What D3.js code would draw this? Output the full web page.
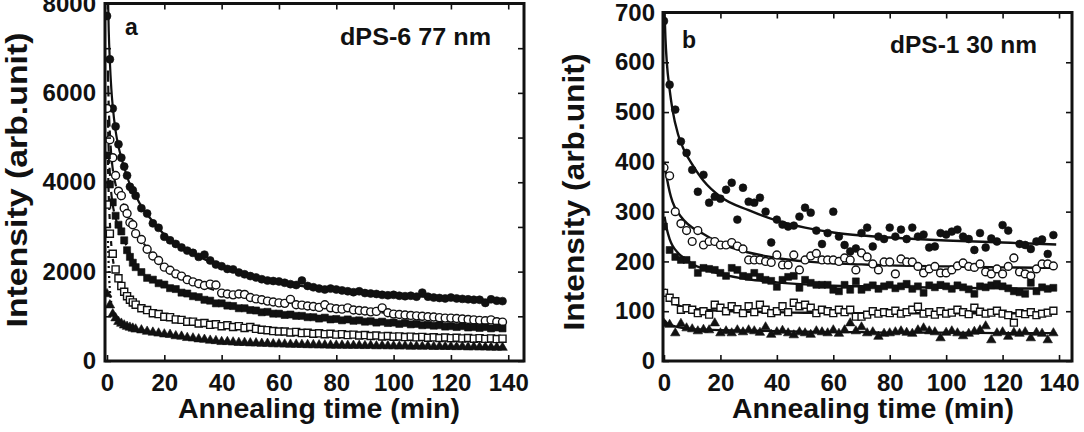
<!DOCTYPE html>
<html><head><meta charset="utf-8">
<script src="https://cdn.jsdelivr.net/npm/d3@7"></script>
<style>body{margin:0;background:#fff}svg{display:block}</style>
</head><body><svg id="c" width="1084" height="432"></svg>
<script>
// ---------- Panel a data (dPS-6 77 nm) ----------
const tA = [0,1,2,3,4,5,6,7,8,9,10,12,14,16,18,20,22,24,26,28,30,32,34,36,38,40,42,44,46,48,50,52,54,56,58,60,62,64,66,68,70,72,74,76,78,80,82,84,86,88,90,92,94,96,98,100,102,104,106,108,110,112,114,116,118,120,122,124,126,128,130,132,134,136,138];
const a1 = [7720,6750,5650,5250,4850,4550,4350,4150,3900,3820,3700,3420,3300,3080,2980,2780,2700,2620,2540,2470,2420,2330,2380,2250,2160,2120,2060,2050,1980,1940,1900,1870,1830,1800,1790,1780,1750,1720,1700,1800,1680,1650,1620,1600,1620,1600,1580,1560,1540,1560,1520,1510,1500,1480,1470,1480,1460,1450,1460,1440,1530,1440,1420,1410,1400,1420,1400,1390,1380,1370,1370,1300,1380,1350,1340];
const a2 = [5650,4950,4550,4150,3800,3700,3420,3300,3100,3050,2850,2720,2500,2350,2250,2100,2030,1950,1900,1820,1770,1730,1690,1720,1700,1520,1500,1480,1500,1490,1420,1390,1370,1340,1320,1300,1290,1380,1260,1250,1230,1220,1200,1260,1190,1170,1160,1190,1140,1130,1120,1100,1110,1190,1080,1050,1040,1030,1020,1010,1000,990,985,970,960,960,950,940,930,920,910,900,920,880,870];
const a3 = [4600,3950,3550,3250,3050,2900,2700,2480,2330,2200,2100,1990,1860,1820,1740,1710,1630,1610,1530,1510,1450,1430,1370,1350,1290,1290,1240,1230,1180,1180,1140,1130,1090,1100,1060,1060,1030,1040,1010,1010,980,980,950,970,930,940,910,930,900,910,880,890,860,880,850,860,830,850,820,830,800,810,790,800,770,780,760,780,750,760,740,760,730,750,730];
const a4 = [3500,2850,2400,2050,1850,1680,1550,1450,1370,1310,1260,1180,1140,1070,1050,990,980,930,920,880,880,840,850,810,820,780,800,760,780,740,760,720,700,690,670,660,660,640,650,625,630,610,620,600,610,590,600,580,590,570,580,560,570,550,560,545,550,535,545,530,540,520,530,515,525,510,520,505,515,500,510,495,505,490,500];
const a5 = [1500,1250,1050,960,880,840,800,770,750,730,710,690,660,640,620,600,590,560,550,520,510,490,480,460,450,430,430,420,410,410,400,400,390,390,380,380,375,370,370,365,360,360,355,355,350,350,350,345,345,345,340,345,335,340,335,335,330,335,325,330,325,330,320,325,320,320,315,320,310,315,310,310,305,305,300];
const tFitA = [0.3,0.6,1,1.5,2,3,4,5,6,8,10,12,15,20,25,30,40,50,60,70,80,90,100,110,120,130,138];
const fa1 = [8300,7400,6700,6100,5700,5150,4800,4550,4330,3950,3700,3460,3200,2830,2570,2400,2110,1900,1760,1660,1600,1530,1480,1440,1410,1380,1350];
const fa2 = [6500,5700,5100,4600,4300,3950,3750,3600,3450,3150,2900,2700,2450,2130,1920,1770,1540,1420,1320,1240,1180,1120,1060,1010,970,930,890];
const fa3 = [5400,4700,4200,3750,3500,3200,3000,2850,2700,2400,2150,1990,1830,1700,1580,1460,1280,1150,1060,990,935,885,850,810,775,750,735];
const fa4 = [4500,3700,3100,2600,2300,2000,1830,1690,1560,1390,1270,1190,1100,990,920,870,790,740,660,625,600,575,550,530,515,500,490];
const fa5 = [2800,2100,1600,1300,1100,950,870,830,800,750,710,690,655,600,550,510,435,400,380,360,350,342,335,328,320,310,302];
const yTicksA = [0,1000,2000,3000,4000,5000,6000,7000,8000];
const yLabelsA = [0,2000,4000,6000,8000];

// ---------- Panel b data (dPS-1 30 nm) ----------
const tB = [0,2,4,6,8,10,12,14,16,18,20,22,24,26,28,30,32,34,36,38,40,42,44,46,48,50,52,54,56,58,60,62,64,66,68,70,72,74,76,78,80,82,84,86,88,90,92,94,96,98,100,102,104,106,108,110,112,114,116,118,120,122,124,126,128,130,132,134,136,138];
const b1 = [683,555,505,441,418,384,340,374,318,330,326,344,358,284,348,320,318,328,300,238,284,274,270,272,290,308,298,262,235,257,300,250,233,220,226,257,268,230,250,245,268,250,264,245,268,250,254,228,230,257,254,260,264,250,245,223,257,228,246,240,273,262,207,235,233,225,240,244,215,253];
const b2 = [388,372,300,276,262,240,262,233,240,240,233,233,238,231,225,203,203,203,200,198,213,193,193,213,183,203,211,216,203,203,203,200,207,203,183,217,209,195,183,199,199,175,205,199,199,190,177,185,190,177,177,183,191,197,190,188,195,179,175,185,175,190,207,179,175,171,185,195,195,191];
const b3 = [270,223,209,203,203,193,177,187,185,183,177,171,187,183,171,169,177,169,163,161,149,163,169,171,147,163,157,153,153,153,143,140,153,143,160,143,148,152,145,150,153,146,150,155,145,150,137,152,148,153,150,145,152,148,144,135,150,148,152,155,150,146,140,138,135,157,140,148,145,147];
const b4 = [137,127,120,103,106,103,96,100,93,113,107,100,110,104,96,110,98,113,103,96,100,110,98,117,110,113,107,96,103,100,96,103,98,103,89,89,93,100,95,98,96,101,95,98,103,109,95,98,93,100,95,97,103,98,94,107,99,95,97,101,95,92,77,96,94,98,92,95,97,101];
const b5 = [75,73,56,75,66,64,60,63,62,76,56,60,56,62,58,62,60,57,68,53,58,61,56,52,58,56,53,60,58,56,62,55,62,76,60,68,56,58,49,55,56,58,60,57,55,62,66,60,58,46,57,60,56,50,55,59,62,70,42,56,58,49,57,55,58,46,57,55,42,56];
const tFitB = [0.2,0.5,1,2,3,5,7,10,14,20,30,40,50,60,70,80,100,120,139];
const fb1 = [700,650,600,545,505,455,425,395,362,330,303,282,268,258,252,248,242,238,234];
const fb2 = [400,385,368,340,320,298,283,268,255,236,218,207,200,196,194,192,190,188,187];
const fb3 = [290,280,265,245,232,217,207,195,185,175,164,158,154,151,150,149,147,146,145];
const fb4 = [145,140,132,124,118,112,108,105,103,101,99,98,97,97,96,96,96,96,96];
const fb5 = [82,80,76,73,71,68,66,64,63,62,61,60,59,58,58,57,57,56,56];
const yTicksB = [0,100,200,300,400,500,600,700];

const xTicks = [0,20,40,60,80,100,120,140];
const markerTypes = ["circleFilled","circleOpen","squareFilled","squareOpen","triangleFilled"];

const FONT = "'Liberation Sans', Arial, Helvetica, sans-serif";
const svg = d3.select("#c");

function symFor(type, s) {
  const shape = type.startsWith("circle") ? d3.symbolCircle : type.startsWith("square") ? d3.symbolSquare : d3.symbolTriangle;
  const size = type.startsWith("triangle") ? s * 0.8 : s;
  return d3.symbol().type(shape).size(size)();
}

function panel(cfg) {
  const x = d3.scaleLinear().domain(cfg.xDomain).range([cfg.left, cfg.right]);
  const y = d3.scaleLinear().domain(cfg.yDomain).range([cfg.bottom, cfg.top]);
  const g = svg.append("g");
  g.append("clipPath").attr("id", cfg.id).append("rect")
    .attr("x", cfg.left).attr("y", cfg.top).attr("width", cfg.right - cfg.left).attr("height", cfg.bottom - cfg.top);
  const plot = g.append("g").attr("clip-path", `url(#${cfg.id})`);
  const line = d3.line().x((d) => x(d[0])).y((d) => y(d[1])).curve(d3.curveMonotoneX);
  cfg.fits.forEach((f, i) => {
    plot.append("path").datum(cfg.tFit.map((t, j) => [t, f[j]]))
      .attr("d", line).attr("fill", "none").attr("stroke", "#111")
      .attr("stroke-width", cfg.lineWidth)
      .attr("stroke-dasharray", cfg.dashes[i]);
  });
  cfg.series.forEach((s, i) => {
    const type = markerTypes[i];
    const open = type.endsWith("Open");
    plot.append("g").selectAll("path").data(cfg.t.map((t, j) => [t, s[j]])).join("path")
      .attr("transform", (d) => `translate(${x(d[0])},${y(d[1])})`)
      .attr("d", symFor(type, cfg.msize))
      .attr("fill", open ? "#fff" : "#111")
      .attr("stroke", "#111").attr("stroke-width", open ? 1.4 : 0.6);
  });
  const tickStyle = (sel) => {
    sel.select(".domain").remove();
    sel.selectAll(".tick line").attr("stroke", "#111").attr("stroke-width", 1.6);
    sel.selectAll(".tick text").attr("fill", "#111").style("font-family", FONT)
      .style("font-weight", "bold").style("font-size", cfg.tickFont + "px");
  };
  g.append("g").attr("transform", `translate(0,${cfg.bottom})`)
    .call(d3.axisBottom(x).tickValues(xTicks).tickSize(-6).tickPadding(13)).call(tickStyle);
  g.append("g").attr("transform", `translate(0,${cfg.top})`)
    .call(d3.axisTop(x).tickValues(xTicks).tickSize(-6).tickFormat("")).call(tickStyle);
  g.append("g").attr("transform", `translate(${cfg.left},0)`)
    .call(d3.axisLeft(y).tickValues(cfg.yTicks).tickSize(-6).tickPadding(cfg.yPad)
      .tickFormat((v) => cfg.yLabels.includes(v) ? String(v) : "")).call(tickStyle);
  g.append("g").attr("transform", `translate(${cfg.right},0)`)
    .call(d3.axisRight(y).tickValues(cfg.yTicks).tickSize(-6).tickFormat("")).call(tickStyle);
  g.append("rect").attr("x", cfg.left).attr("y", cfg.top)
    .attr("width", cfg.right - cfg.left).attr("height", cfg.bottom - cfg.top)
    .attr("fill", "none").attr("stroke", "#111").attr("stroke-width", 3);

  const txt = (xx, yy, s, size, len, anchor) => {
    const t = g.append("text").attr("x", xx).attr("y", yy).text(s)
      .attr("fill", "#111").style("font-family", FONT).style("font-weight", "bold")
      .style("font-size", size + "px").attr("text-anchor", anchor || "start");
    if (len) t.attr("textLength", len).attr("lengthAdjust", "spacingAndGlyphs");
    return t;
  };
  txt(cfg.xTitleX, 418, "Annealing time (min)", 27, 282, "middle");
  g.append("text").attr("transform", `translate(${cfg.yTitleX},${cfg.yTitleY}) rotate(-90)`)
    .attr("text-anchor", "middle").text("Intensity (arb.unit)")
    .attr("fill", "#111").style("font-family", FONT).style("font-weight", "bold")
    .style("font-size", "30px").attr("textLength", cfg.yTitleLen).attr("lengthAdjust", "spacingAndGlyphs");
  txt(cfg.letterX, cfg.letterY, cfg.letter, 23);
  txt(cfg.noteX, cfg.noteY, cfg.note, 23, cfg.noteLen);
}

panel({
  id: "clipA", left: 105, right: 524, top: 3.5, bottom: 361,
  xDomain: [-0.7, 145.5], yDomain: [0, 8000],
  t: tA, series: [a1, a2, a3, a4, a5],
  tFit: tFitA, fits: [fa1, fa2, fa3, fa4, fa5],
  dashes: [null, "11,4", "8,4", "5,4", "2,3"], lineWidth: 2.2,
  msize: 50, yTicks: yTicksA, yLabels: yLabelsA, yPad: 9, tickFont: 24,
  xTitleX: 319, yTitleX: 27, yTitleY: 180, yTitleLen: 295,
  letter: "a", letterX: 125, letterY: 35,
  note: "dPS-6 77 nm", noteX: 340, noteY: 45, noteLen: 151
});

panel({
  id: "clipB", left: 663, right: 1072, top: 12.5, bottom: 361,
  xDomain: [-0.35, 144.6], yDomain: [0, 700],
  t: tB, series: [b1, b2, b3, b4, b5],
  tFit: tFitB, fits: [fb1, fb2, fb3, fb4, fb5],
  dashes: [null, null, null, null, null], lineWidth: 2.4,
  msize: 48, yTicks: yTicksB, yLabels: yTicksB, yPad: 8, tickFont: 24,
  xTitleX: 873, yTitleX: 584, yTitleY: 192, yTitleLen: 277,
  letter: "b", letterX: 682, letterY: 48,
  note: "dPS-1 30 nm", noteX: 890, noteY: 53, noteLen: 147
});
</script></body></html>
